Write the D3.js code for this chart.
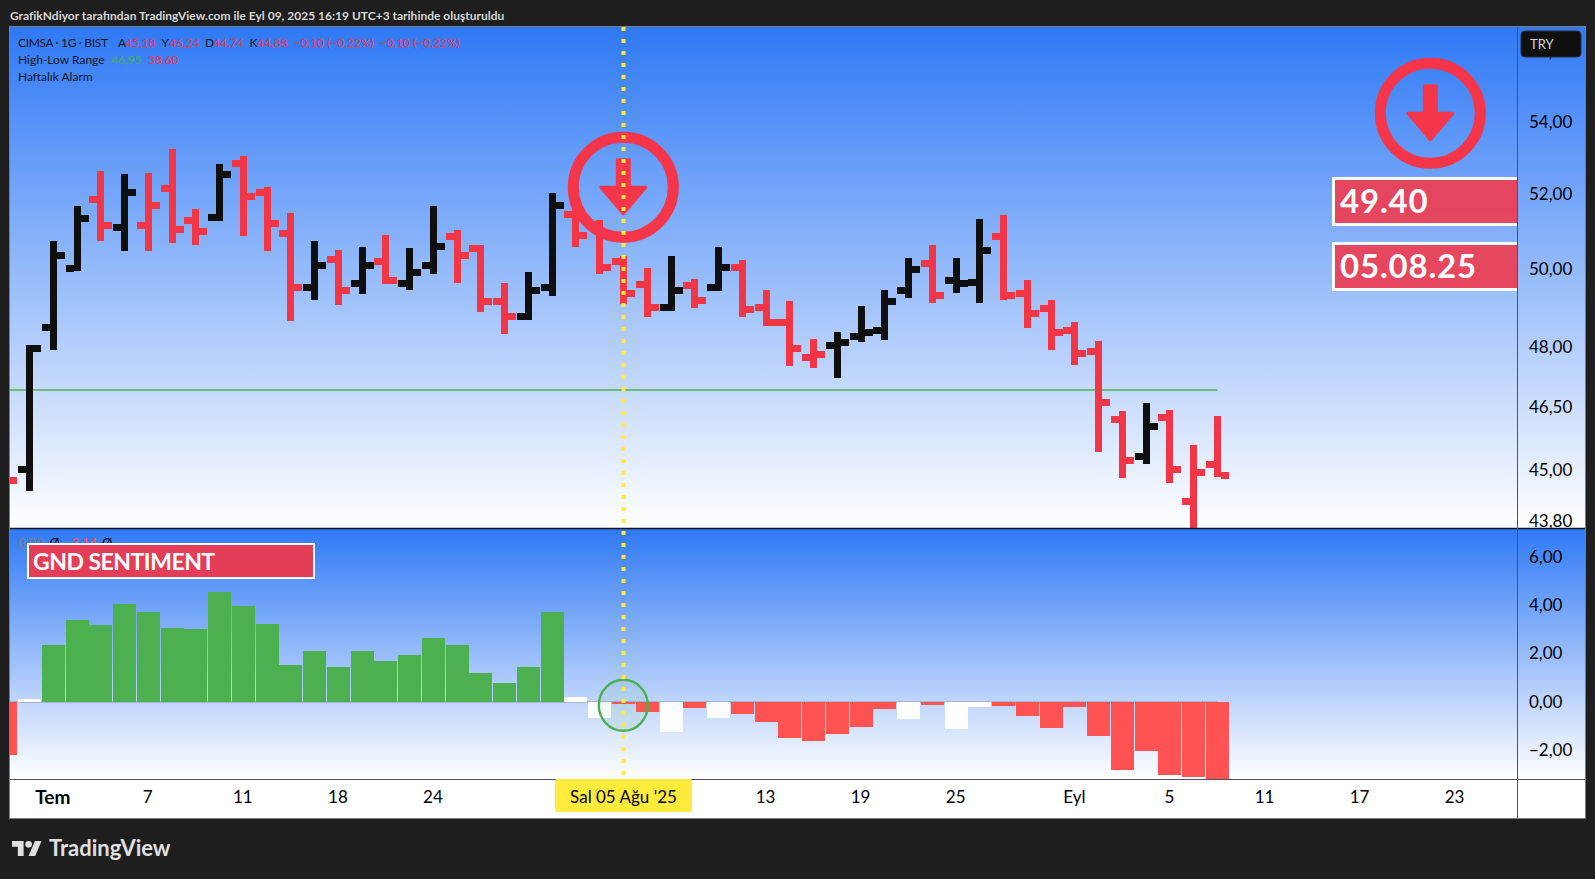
<!DOCTYPE html>
<html lang="tr">
<head>
<meta charset="utf-8">
<script src="https://cdn.jsdelivr.net/npm/d3@7"></script>
<style>
html,body{margin:0;padding:0;background:#1e1e1e;overflow:hidden}
svg{display:block}
text{font-family:Lato,"Open Sans","Noto Sans",sans-serif}
</style>
</head>
<body>
<svg id="chart" width="1595" height="879"></svg>
<script>
// ---------- data ----------
const opens  = [44.90,45.00,48.48,50.00,51.84,51.09,51.14,52.14,51.28,51.36,52.83,52.03,50.93,49.51,50.24,49.61,50.19,49.61,50.08,50.85,50.53,49.15,48.76,49.51,51.44,51.15,50.19,49.59,48.99,49.54,49.51,50.03,48.99,48.61,47.72,48.02,48.25,48.40,49.43,50.13,49.69,49.64,50.85,49.35,48.95,48.40,47.87,46.19,45.31,46.25,44.25,45.12];
const highs  = [45.30,48.03,50.72,51.66,52.62,52.54,52.57,53.23,51.58,52.81,53.03,52.18,51.47,50.72,50.48,50.56,50.88,50.53,51.66,51.02,50.61,49.62,49.91,52.01,51.55,51.28,50.32,50.01,50.32,49.73,50.56,50.22,49.44,49.15,48.18,48.36,49.03,49.44,50.27,50.61,50.27,51.31,51.42,49.70,49.18,48.62,48.13,46.40,46.60,46.43,45.58,46.28];
const lows   = [44.50,44.49,47.90,49.92,50.72,50.45,50.45,50.67,50.61,51.26,50.86,50.45,48.64,49.18,49.05,49.34,49.60,49.44,49.86,49.62,48.87,48.31,48.67,49.28,50.56,49.86,49.08,48.74,48.90,48.98,49.41,48.74,48.51,47.51,47.46,47.21,48.10,48.16,49.23,49.10,49.36,49.10,49.18,48.46,47.90,47.53,45.41,44.80,45.13,44.68,43.40,44.81];
const closes = [44.74,47.94,50.34,51.33,51.14,52.03,51.68,51.03,50.98,52.53,51.92,51.20,49.51,50.08,49.41,50.08,49.69,49.90,50.58,50.34,49.15,48.74,49.43,51.68,50.87,50.03,49.35,48.99,49.43,49.17,50.03,48.92,48.61,47.94,47.79,48.10,48.35,49.15,49.98,49.28,49.61,50.47,49.28,48.84,48.35,47.82,46.61,45.22,46.01,45.00,44.93,44.85];
const sentiment = [-2.20,0.13,2.37,3.40,3.20,4.07,3.73,3.07,3.03,4.56,3.98,3.24,1.54,2.12,1.45,2.12,1.70,1.95,2.66,2.37,1.20,0.79,1.45,3.73,0.21,-0.66,-0.08,-0.41,-1.24,-0.25,-0.66,-0.50,-0.83,-1.49,-1.62,-1.33,-1.04,-0.29,-0.71,-0.12,-1.12,-0.21,-0.17,-0.58,-1.08,-0.21,-1.41,-2.82,-2.03,-3.03,-3.11,-3.21];
const neutralSentimentBars = [1,24,25,28,30,38,40,41];
const priceTicks = [56,54,52,50,48,46.5,45,43.8];
const sentimentTicks = [6,4,2,0,-2];
const timeTickIndex  = [2,6,10,14,18,32,36,40,45,49,53,57,61];
const timeTickLabels = ["Tem","7","11","18","24","13","19","25","Eyl","5","11","17","23"];
const boldTimeTicks = ["Tem"];
const crosshairIndex = 26;
const crosshairLabel = "Sal 05 Ağu '25";
const rangeHighLevel = 46.91;
const signalPrice = "49.40";
const signalDate = "05.08.25";

const legendMain = [["CIMSA · 1G · BIST",18,"ink"],["A",118,"ink"],["45,18",125,"down"],["Y",161.5,"ink"],["46,24",169,"down"],["D",205,"ink"],["44,74",213,"down"],["K",249.5,"ink"],["44,88",257,"down"],["−0,10 (−0,22%)",293.5,"down"],["−0,10 (−0,22%)",379.5,"down"]];
const legendRange = [["High-Low Range",18,"ink"],["46,95",111,"up"],["38,60",148,"down"]];
const legendLower = [["0,00",18,"#787b86"],["Ø",49.5,"#000"],["−3,14",64,"#ff5252"],["Ø",102,"#000"]];

// ---------- layout ----------
const L=10, R=1517.5, RR=1585, T=27, SEP=528, PB=779, B=818;
const RED="#f23645", BLACK="#0f0f0f", GREEN="#4caf50", HRED="#ff5252", YELLOW="#ffeb3b", BOX="#e8435a";
const colorOf={ink:"#131722",down:RED,up:GREEN};

const svg=d3.select("#chart");
const defs=svg.append("defs");
function grad(id,y1,y2){
  const g=defs.append("linearGradient").attr("id",id).attr("gradientUnits","userSpaceOnUse")
    .attr("x1",0).attr("x2",0).attr("y1",y1).attr("y2",y2);
  g.append("stop").attr("offset",0).attr("stop-color","#2f79f6");
  g.append("stop").attr("offset",1).attr("stop-color","#ffffff");
}
grad("g1",T,SEP); grad("g2",SEP,PB);
defs.append("clipPath").attr("id","c1").append("rect").attr("x",L).attr("y",T).attr("width",R-L).attr("height",SEP-T);
defs.append("clipPath").attr("id","c2").append("rect").attr("x",L).attr("y",SEP).attr("width",R-L).attr("height",PB-SEP);
defs.append("clipPath").attr("id","c1a").append("rect").attr("x",R).attr("y",T).attr("width",RR-R).attr("height",SEP-T);

svg.append("rect").attr("width",1595).attr("height",879).attr("fill","#1e1e1e");
svg.append("rect").attr("x",L).attr("y",T).attr("width",RR-L).attr("height",SEP-T).attr("fill","url(#g1)");
svg.append("rect").attr("x",L).attr("y",SEP).attr("width",RR-L).attr("height",PB-SEP).attr("fill","url(#g2)");
svg.append("rect").attr("x",L).attr("y",PB).attr("width",RR-L).attr("height",B-PB).attr("fill","#fff");

// ---------- scales ----------
const x=d3.scaleLinear().domain([0,51]).range([5.75,1217.5]);
const priceRange=[268.3+1908*Math.log(50/43),268.3-1908*Math.log(58/50)];
const y=d3.scaleLog().domain([43,58]).range(priceRange);
const yS=d3.scaleLinear().domain([0,1]).range([702,677.9]);

// ---------- price pane ----------
const pricePane=svg.append("g").attr("clip-path","url(#c1)");
pricePane.append("line").attr("x1",L).attr("x2",x(51)).attr("y1",y(rangeHighLevel)).attr("y2",y(rangeHighLevel))
  .attr("stroke",GREEN).attr("stroke-width",1.6);

const bars=pricePane.append("g").attr("shape-rendering","crispEdges")
  .selectAll("g").data(closes.map((c,i)=>i)).join("g")
  .attr("fill",i=>(i>0&&closes[i]>=closes[i-1])?BLACK:RED);
bars.append("rect").attr("x",i=>x(i)-3.5).attr("width",7).attr("y",i=>y(highs[i])).attr("height",i=>y(lows[i])-y(highs[i]));
bars.append("rect").attr("x",i=>x(i)-11.5).attr("width",8).attr("y",i=>y(opens[i])-3.5).attr("height",7);
bars.append("rect").attr("x",i=>x(i)+3.5).attr("width",8).attr("y",i=>y(closes[i])-3.5).attr("height",7);

function signal(parent,cx,cy){
  const g=parent.append("g").attr("transform",`translate(${cx},${cy})`);
  g.append("circle").attr("r",50).attr("fill","none").attr("stroke","#f5364a").attr("stroke-width",11);
  g.append("path").attr("fill","#f5364a").attr("stroke","#f5364a").attr("stroke-width",3).attr("stroke-linejoin","round")
    .attr("d","M-6,-27.5H6V0H22.5L0,26.5L-22.5,0H-6Z");
}
signal(svg,623.3,187.3);
signal(svg,1430.3,113.3);

const boxLayer=svg.append("g").attr("clip-path","url(#c1)");
function box(yTop,h,label){
  const g=boxLayer.append("g");
  g.append("rect").attr("x",1333.5).attr("y",yTop+1.5).attr("width",R-1333.5+10).attr("height",h-3)
    .attr("fill",BOX).attr("fill-opacity",.97).attr("stroke","#fff").attr("stroke-width",3);
  g.append("text").attr("x",1340).attr("y",yTop+h/2+11.5).attr("fill","#fff")
    .attr("font-size",33).attr("font-weight",700).attr("letter-spacing",.8).text(label);
}
box(177,49,signalPrice);
box(242,49,signalDate);

// ---------- sentiment pane ----------
const sentPane=svg.append("g").attr("clip-path","url(#c2)");
sentPane.append("line").attr("x1",L).attr("x2",x(51)).attr("y1",yS(0)).attr("y2",yS(0)).attr("stroke","#8b93a8").attr("stroke-width",1);
sentPane.append("g").attr("shape-rendering","crispEdges").selectAll("rect").data(sentiment).join("rect")
  .attr("x",(d,i)=>x(i)-11.5).attr("width",23)
  .attr("y",d=>Math.min(yS(d),yS(0))).attr("height",d=>Math.abs(yS(d)-yS(0)))
  .attr("fill",(d,i)=>neutralSentimentBars.includes(i)?"#fff":(d>0?GREEN:HRED));
sentPane.append("ellipse").attr("cx",x(crosshairIndex)-0.2).attr("cy",705.3).attr("rx",24.5).attr("ry",25.5)
  .attr("fill",GREEN).attr("fill-opacity",.08).attr("stroke",GREEN).attr("stroke-width",2.4);

// legend of lower pane, under the box
const lowLegend=svg.append("g").attr("font-size",13);
lowLegend.selectAll("text").data(legendLower).join("text").attr("x",d=>d[1]).attr("y",547.5).attr("fill",d=>d[2]).text(d=>d[0]);
svg.append("rect").attr("x",28).attr("y",544).attr("width",286).attr("height",34).attr("fill","#e33d58").attr("stroke","#fff").attr("stroke-width",2);
svg.append("text").attr("x",33).attr("y",570).attr("fill","#fff").attr("font-size",23).attr("font-weight",700).attr("letter-spacing",-.5).text("GND SENTIMENT");

// ---------- axes ----------
const priceFmt=d=>d3.format(".2f")(d).replace(".",",").replace("-","−").replace("−","−");
const axisStyle=g=>{g.select(".domain").remove();g.selectAll(".tick line").remove();
  g.selectAll("text").attr("fill","#000").style("font-family","Lato,'Open Sans',sans-serif");};

const priceAxis=svg.append("g").attr("clip-path","url(#c1a)").append("g").attr("transform",`translate(${R},0.6)`)
  .call(d3.axisRight(y).tickValues(priceTicks).tickFormat(priceFmt).tickSize(0).tickPadding(11.5))
  .attr("font-size",17).call(axisStyle);
priceAxis.selectAll(".tick text").filter(d=>d===priceTicks[0]).attr("transform","translate(0,-1.6)");

svg.append("g").attr("transform",`translate(${R},-0.4)`)
  .call(d3.axisRight(yS).tickValues(sentimentTicks).tickFormat(priceFmt).tickSize(0).tickPadding(11.5))
  .attr("font-size",17).call(axisStyle);

const timeAxis=svg.append("g").attr("transform",`translate(-1,${PB})`)
  .call(d3.axisBottom(x).tickValues(timeTickIndex).tickFormat((d,i)=>timeTickLabels[i]).tickSize(0).tickPadding(12))
  .attr("font-size",17).call(axisStyle);
timeAxis.selectAll("text").attr("font-weight",d=>boldTimeTicks.includes(timeTickLabels[timeTickIndex.indexOf(d)])?700:400)
  .attr("font-size",d=>boldTimeTicks.includes(timeTickLabels[timeTickIndex.indexOf(d)])?19:17);

// frame and dividers
svg.append("line").attr("x1",L).attr("x2",RR).attr("y1",528.5).attr("y2",528.5).attr("stroke","#131722").attr("stroke-width",1.6);
svg.append("line").attr("x1",L).attr("x2",RR).attr("y1",779.5).attr("y2",779.5).attr("stroke","#50535e").attr("stroke-width",1);
svg.append("line").attr("x1",R).attr("x2",R).attr("y1",T).attr("y2",B).attr("stroke","#50535e").attr("stroke-width",1);
svg.append("rect").attr("x",9.5).attr("y",26.5).attr("width",RR-9).attr("height",B-26).attr("fill","none").attr("stroke","#7c7c7c").attr("stroke-width",1);

// crosshair
svg.append("line").attr("x1",x(crosshairIndex)).attr("x2",x(crosshairIndex)).attr("y1",T).attr("y2",PB)
  .attr("stroke",YELLOW).attr("stroke-width",4).attr("stroke-dasharray","4 8");
svg.append("rect").attr("x",x(crosshairIndex)-68.5).attr("y",PB).attr("width",137).attr("height",33).attr("rx",1.5).attr("fill",YELLOW);
svg.append("text").attr("x",x(crosshairIndex)).attr("y",803).attr("text-anchor","middle").attr("font-size",17).attr("fill","#000").text(crosshairLabel);

// currency tag
svg.append("rect").attr("x",1521).attr("y",31).attr("width",60).attr("height",26).attr("rx",4).attr("fill","#0f0f0f").attr("stroke","#2a2e39");
svg.append("text").attr("x",1530).attr("y",49).attr("font-size",13).attr("fill","#d1d4dc").text("TRY");

// header + legends
svg.append("text").attr("x",10).attr("y",19.5).attr("font-size",12).attr("font-weight",700).attr("fill","#d6d6d6")
  .text("GrafikNdiyor tarafından TradingView.com ile Eyl 09, 2025 16:19 UTC+3 tarihinde oluşturuldu");
const leg=svg.append("g").attr("font-size",12);
leg.selectAll(".a").data(legendMain).join("text").attr("class","a").attr("x",d=>d[1]).attr("y",46.5).attr("letter-spacing",d=>d[1]===18?-.35:0).attr("fill",d=>colorOf[d[2]]).text(d=>d[0]);
leg.selectAll(".b").data(legendRange).join("text").attr("class","b").attr("x",d=>d[1]).attr("y",63.5).attr("fill",d=>colorOf[d[2]]).text(d=>d[0]);
leg.append("text").attr("x",18).attr("y",80.5).attr("fill",colorOf.ink).text("Haftalık Alarm");

// TradingView mark
const logo=svg.append("g").attr("transform","translate(12,837.7) scale(.83)").attr("fill","#e0e0e0");
logo.append("path").attr("d","M14 22H7V11H0V4h14v18zM28 22h-8l7.5-18h8L28 22z");
logo.append("circle").attr("cx",20).attr("cy",8).attr("r",4);
svg.append("text").attr("x",49).attr("y",856).attr("font-size",22).attr("font-weight",700).attr("fill","#e0e0e0").text("TradingView");
</script>
</body>
</html>
